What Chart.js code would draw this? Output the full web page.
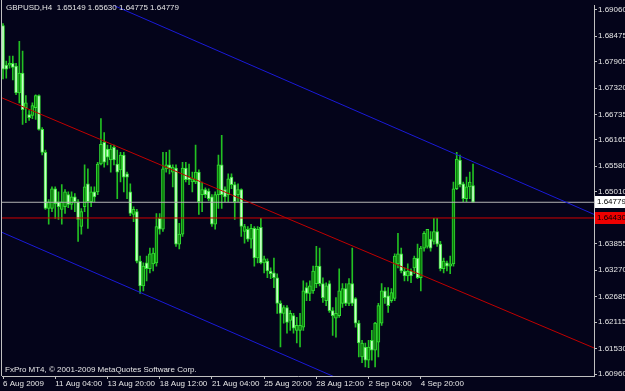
<!DOCTYPE html>
<html>
<head>
<meta charset="utf-8">
<script src="https://cdn.jsdelivr.net/npm/chart.js@4.4.1/dist/chart.umd.min.js"></script>
<style>
  html, body { margin: 0; padding: 0; background: #04041a; }
  canvas { display: block; }
</style>
</head>
<body>
<canvas id="chart" width="625" height="391"></canvas>
<script>
// GBPUSD H4 candles (one entry per 4h bar)
const opens = [
  1.6871, 1.6783, 1.6783, 1.6787, 1.6781, 1.6721, 1.6765, 1.6688, 1.6673, 1.6671,
  1.6688, 1.6715, 1.6640, 1.6589, 1.6464, 1.6464, 1.6508, 1.6479, 1.6462, 1.6468,
  1.6495, 1.6473, 1.6490, 1.6479, 1.6424, 1.6468, 1.6519, 1.6479, 1.6501, 1.6501,
  1.6563, 1.6611, 1.6596, 1.6572, 1.6600, 1.6563, 1.6550, 1.6583, 1.6541, 1.6501,
  1.6451, 1.6457, 1.6347, 1.6292, 1.6343, 1.6330, 1.6341, 1.6343, 1.6442, 1.6418,
  1.6552, 1.6561, 1.6545, 1.6554, 1.6385, 1.6407, 1.6554, 1.6534, 1.6523, 1.6523,
  1.6545, 1.6495, 1.6506, 1.6503, 1.6490, 1.6429, 1.6495, 1.6561, 1.6506, 1.6495,
  1.6534, 1.6517, 1.6495, 1.6506, 1.6413, 1.6418, 1.6396, 1.6420, 1.6354, 1.6422,
  1.6343, 1.6347, 1.6325, 1.6321, 1.6310, 1.6253, 1.6231, 1.6244, 1.6215, 1.6226,
  1.6193, 1.6193, 1.6200, 1.6288, 1.6275, 1.6281, 1.6297, 1.6336, 1.6297, 1.6259,
  1.6297, 1.6237, 1.6220, 1.6226, 1.6253, 1.6286, 1.6253, 1.6297, 1.6264, 1.6209,
  1.6134, 1.6156, 1.6127, 1.6171, 1.6149, 1.6167, 1.6209, 1.6281, 1.6270, 1.6259,
  1.6264, 1.6341, 1.6363, 1.6325, 1.6314, 1.6325, 1.6332, 1.6354, 1.6310, 1.6376,
  1.6380, 1.6396, 1.6391, 1.6413, 1.6385, 1.6330, 1.6343, 1.6336, 1.6341, 1.6508,
  1.6572, 1.6519, 1.6486, 1.6512, 1.65149
];
const highs = [
  1.6875, 1.6792, 1.6803, 1.6803, 1.6787, 1.6836, 1.6814, 1.6715, 1.6682, 1.6699,
  1.6717, 1.6717, 1.6644, 1.6594, 1.6484, 1.6512, 1.6512, 1.6501, 1.6517, 1.6506,
  1.6501, 1.6501, 1.6497, 1.6484, 1.6464, 1.6561, 1.6552, 1.6512, 1.6512, 1.6567,
  1.6664, 1.6633, 1.6605, 1.6605, 1.6605, 1.6594, 1.6589, 1.6589, 1.6545, 1.6519,
  1.6468, 1.6462, 1.6358, 1.6343, 1.6358, 1.6376, 1.6376, 1.6453, 1.6453, 1.6589,
  1.6589, 1.6594, 1.6561, 1.6561, 1.6431, 1.6567, 1.6567, 1.6563, 1.6545, 1.6605,
  1.6550, 1.6523, 1.6510, 1.6508, 1.6495, 1.6501, 1.6583, 1.6627, 1.6512, 1.6541,
  1.6541, 1.6523, 1.6519, 1.6508, 1.6429, 1.6424, 1.6429, 1.6424, 1.6424, 1.6442,
  1.6358, 1.6352, 1.6332, 1.6354, 1.6319, 1.6259, 1.6248, 1.6248, 1.6237, 1.6231,
  1.6222, 1.6231, 1.6303, 1.6299, 1.6303, 1.6336, 1.6380, 1.6376, 1.6310, 1.6299,
  1.6303, 1.6244, 1.6266, 1.6330, 1.6297, 1.6297, 1.6308, 1.6376, 1.6266, 1.6215,
  1.6171, 1.6165, 1.6171, 1.6193, 1.6211, 1.6253, 1.6297, 1.6288, 1.6288, 1.6286,
  1.6363, 1.6409, 1.6376, 1.6332, 1.6341, 1.6330, 1.6358, 1.6385, 1.6380, 1.6413,
  1.6418, 1.6413, 1.6442, 1.6442, 1.6391, 1.6354, 1.6347, 1.6358, 1.6523, 1.6589,
  1.6583, 1.6523, 1.6534, 1.6545, 1.65630
];
const lows = [
  1.6752, 1.6754, 1.6776, 1.6750, 1.6717, 1.6699, 1.6651, 1.6655, 1.6660, 1.6664,
  1.6662, 1.6638, 1.6583, 1.6462, 1.6429, 1.6457, 1.6442, 1.6440, 1.6429, 1.6453,
  1.6466, 1.6462, 1.6457, 1.6391, 1.6407, 1.6457, 1.6420, 1.6468, 1.6479, 1.6495,
  1.6561, 1.6556, 1.6561, 1.6545, 1.6561, 1.6486, 1.6523, 1.6501, 1.6486, 1.6448,
  1.6435, 1.6343, 1.6275, 1.6281, 1.6303, 1.6321, 1.6325, 1.6336, 1.6407, 1.6413,
  1.6545, 1.6541, 1.6512, 1.6380, 1.6374, 1.6402, 1.6523, 1.6517, 1.6501, 1.6519,
  1.6451, 1.6457, 1.6488, 1.6481, 1.6424, 1.6418, 1.6464, 1.6464, 1.6479, 1.6479,
  1.6508, 1.6440, 1.6479, 1.6402, 1.6387, 1.6391, 1.6376, 1.6336, 1.6343, 1.6341,
  1.6321, 1.6310, 1.6308, 1.6288, 1.6231, 1.6156, 1.6209, 1.6187, 1.6193, 1.6187,
  1.6165, 1.6156, 1.6193, 1.6259, 1.6259, 1.6275, 1.6288, 1.6292, 1.6255, 1.6248,
  1.6233, 1.6182, 1.6178, 1.6222, 1.6244, 1.6248, 1.6248, 1.6248, 1.6200, 1.6134,
  1.6121, 1.6112, 1.6110, 1.6127, 1.6112, 1.6134, 1.6204, 1.6253, 1.6233, 1.6255,
  1.6259, 1.6332, 1.6321, 1.6303, 1.6303, 1.6299, 1.6319, 1.6308, 1.6281, 1.6369,
  1.6376, 1.6369, 1.6385, 1.6380, 1.6325, 1.6321, 1.6325, 1.6319, 1.6336, 1.6506,
  1.6512, 1.6479, 1.6479, 1.6486, 1.64775
];
const closes = [
  1.6774, 1.6774, 1.6787, 1.6778, 1.6721, 1.6765, 1.6684, 1.6699, 1.6666, 1.6693,
  1.6715, 1.6640, 1.6589, 1.6464, 1.6479, 1.6508, 1.6475, 1.6468, 1.6479, 1.6501,
  1.6473, 1.6490, 1.6479, 1.6440, 1.6457, 1.6512, 1.6479, 1.6501, 1.6490, 1.6563,
  1.6607, 1.6567, 1.6578, 1.6596, 1.6572, 1.6545, 1.6583, 1.6534, 1.6534, 1.6453,
  1.6462, 1.6347, 1.6292, 1.6336, 1.6330, 1.6363, 1.6365, 1.6424, 1.6418, 1.6552,
  1.6561, 1.6554, 1.6556, 1.6385, 1.6407, 1.6554, 1.6528, 1.6528, 1.6530, 1.6545,
  1.6479, 1.6506, 1.6495, 1.6486, 1.6429, 1.6495, 1.6561, 1.6495, 1.6490, 1.6530,
  1.6517, 1.6479, 1.6506, 1.6424, 1.6424, 1.6396, 1.6420, 1.6354, 1.6418, 1.6343,
  1.6352, 1.6325, 1.6319, 1.6310, 1.6253, 1.6231, 1.6244, 1.6211, 1.6231, 1.6198,
  1.6204, 1.6204, 1.6281, 1.6275, 1.6292, 1.6325, 1.6336, 1.6297, 1.6266, 1.6292,
  1.6237, 1.6226, 1.6231, 1.6281, 1.6286, 1.6253, 1.6297, 1.6253, 1.6209, 1.6165,
  1.6165, 1.6127, 1.6156, 1.6149, 1.6209, 1.6248, 1.6281, 1.6266, 1.6248, 1.6277,
  1.6358, 1.6363, 1.6325, 1.6314, 1.6325, 1.6314, 1.6354, 1.6310, 1.6376, 1.6409,
  1.6418, 1.6376, 1.6413, 1.6385, 1.6330, 1.6347, 1.6336, 1.6341, 1.6508, 1.6574,
  1.6517, 1.6486, 1.6512, 1.6523, 1.64779
];

// x axis labels sit every 16 bars
const tickBars = [0, 16, 32, 48, 64, 80, 96, 112, 128];
const tickLabels = ["6 Aug 2009", "11 Aug 04:00", "13 Aug 20:00", "18 Aug 12:00", "21 Aug 04:00",
                    "25 Aug 20:00", "28 Aug 12:00", "2 Sep 04:00", "4 Sep 20:00"];
const priceTicks = [1.69060, 1.68475, 1.67905, 1.67320, 1.66735, 1.66165, 1.65580, 1.65010,
                    1.64430, 1.63855, 1.63270, 1.62685, 1.62115, 1.61530, 1.60960];

// drawn objects: bid line, horizontal level, regression-style channel
const bidPrice = 1.64779;
const levelPrice = 1.64430;
const channelTop = [{ x: 30, y: 1.6928 }, { x: 181.06, y: 1.6451 }];
const channelMid = [{ x: -0.31, y: 1.6710 }, { x: 181.06, y: 1.6154 }];
const channelLow = [{ x: -0.31, y: 1.6411 }, { x: 110, y: 1.6063 }];

const symbol = "GBPUSD,H4";
const copyright = "FxPro MT4, \u00a9 2001-2009 MetaQuotes Software Corp.";

const X_MIN = -0.31, X_MAX = 181.06;
const Y_MIN = 1.60916, Y_MAX = 1.69148;
const FONT = "'Liberation Sans', Arial, sans-serif";
const BG = '#04041a';
const AXIS = '#c0c0c0';

const idx = opens.map((_, i) => i);
const last = opens.length - 1;

function flatLine(price, color) {
  return {
    type: 'line',
    data: [{ x: X_MIN, y: price }, { x: X_MAX, y: price }],
    borderColor: color, borderWidth: 1, pointRadius: 0, clip: 0, order: 1
  };
}
function slopeLine(points, color) {
  return {
    type: 'line', data: points,
    borderColor: color, borderWidth: 1, pointRadius: 0, tension: 0, clip: 0, order: 1
  };
}

const mt4Plugin = {
  id: 'mt4',
  beforeDraw(chart) {
    const ctx = chart.ctx;
    ctx.save();
    ctx.fillStyle = BG;
    ctx.fillRect(0, 0, chart.width, chart.height);
    ctx.restore();
  },
  afterDraw(chart) {
    const ctx = chart.ctx;
    const ca = chart.chartArea;
    const ys = chart.scales.y;
    ctx.save();
    // left frame line
    ctx.strokeStyle = AXIS;
    ctx.lineWidth = 1;
    ctx.beginPath();
    ctx.moveTo(ca.left - 0.5, 0);
    ctx.lineTo(ca.left - 0.5, ca.bottom);
    ctx.stroke();

    ctx.font = '8px ' + FONT;
    ctx.textBaseline = 'middle';
    ctx.textAlign = 'left';
    ctx.fillStyle = '#e6e6e6';
    const hdr = symbol + '  ' + [opens[last], highs[last], lows[last], closes[last]]
      .map(v => v.toFixed(5)).join(' ');
    ctx.fillText(hdr, 6, 8);
    ctx.fillText(copyright, 5, 370);

    // price tags on the axis
    const yb = Math.round(ys.getPixelForValue(bidPrice));
    ctx.fillStyle = '#ffffff';
    ctx.fillRect(ca.right + 1, yb - 6, 31, 12);
    ctx.fillStyle = '#000000';
    ctx.fillText(bidPrice.toFixed(5), ca.right + 3, yb);

    const yl = Math.round(ys.getPixelForValue(levelPrice));
    ctx.fillStyle = '#ee0000';
    ctx.fillRect(ca.right + 1, yl - 6, 31, 12);
    ctx.fillStyle = '#000000';
    ctx.fillText(levelPrice.toFixed(5), ca.right + 3, yl);
    ctx.restore();
  }
};

new Chart(document.getElementById('chart'), {
  type: 'bar',
  data: {
    datasets: [
      slopeLine(channelTop, '#1a1ad8'),
      slopeLine(channelLow, '#1a1ad8'),
      slopeLine(channelMid, '#c00000'),
      flatLine(bidPrice, '#b4b4b4'),
      flatLine(levelPrice, '#d00000'),
      {
        type: 'bar',
        data: idx.map(i => ({ x: i, y: [opens[i], closes[i]] })),
        backgroundColor: c => closes[c.dataIndex] < opens[c.dataIndex] ? '#c8ffc8' : '#0a7a0a',
        borderColor: '#33dd33',
        borderWidth: 1,
        borderSkipped: false,
        barThickness: 3,
        grouped: false,
        order: 2
      },
      {
        type: 'bar',
        data: idx.map(i => ({ x: i, y: [lows[i], highs[i]] })),
        backgroundColor: '#22c022',
        barThickness: 1,
        grouped: false,
        order: 3
      }
    ]
  },
  options: {
    responsive: false,
    animation: false,
    devicePixelRatio: 1,
    layout: { padding: { left: 2, top: 2, right: 0, bottom: 0 } },
    plugins: { legend: { display: false }, tooltip: { enabled: false } },
    scales: {
      x: {
        type: 'linear',
        min: X_MIN,
        max: X_MAX,
        offset: false,
        afterBuildTicks: s => { s.ticks = tickBars.map(v => ({ value: v })); },
        afterFit: s => { s.height = 15; },
        grid: { drawOnChartArea: false, drawTicks: true, tickLength: 3, color: AXIS, offset: false },
        border: { color: AXIS },
        ticks: {
          align: 'start',
          autoSkip: false,
          maxRotation: 0,
          padding: 0,
          color: '#e6e6e6',
          font: { family: FONT, size: 8 },
          callback: (v, i) => tickLabels[i]
        }
      },
      y: {
        position: 'right',
        min: Y_MIN,
        max: Y_MAX,
        afterBuildTicks: s => { s.ticks = priceTicks.map(v => ({ value: v })); },
        afterFit: s => { s.width = 31; },
        grid: { drawOnChartArea: false, drawTicks: true, tickLength: 3, color: AXIS },
        border: { color: AXIS },
        ticks: {
          autoSkip: false,
          padding: 1,
          color: '#e6e6e6',
          font: { family: FONT, size: 8 },
          callback: v => v.toFixed(5)
        }
      }
    }
  },
  plugins: [mt4Plugin]
});
</script>
</body>
</html>
